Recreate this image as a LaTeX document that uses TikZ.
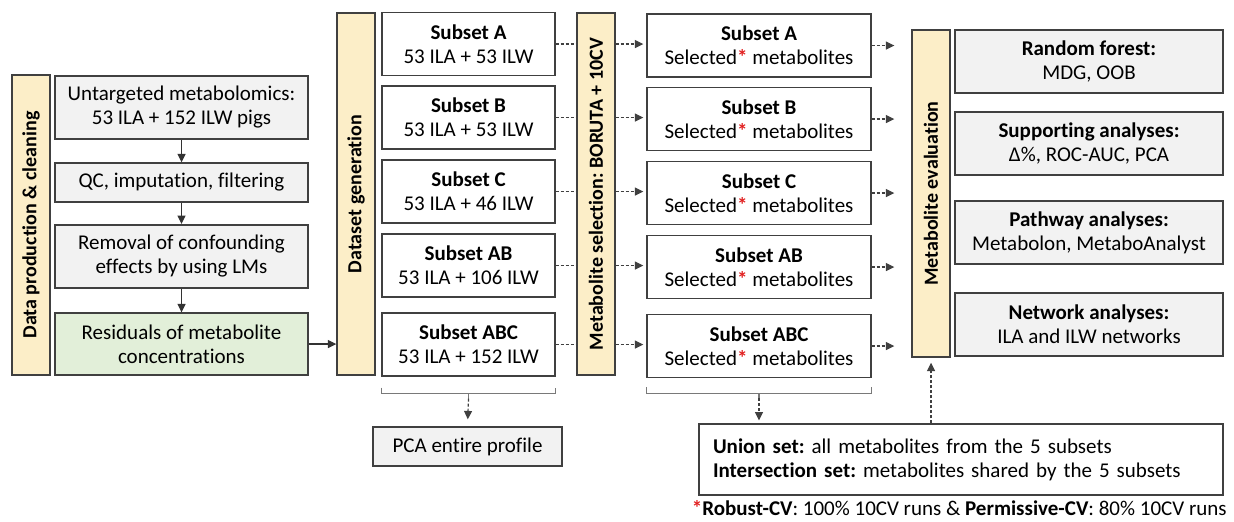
\documentclass[tikz,border=0pt]{standalone}
\usepackage{fontspec}
\setmainfont{Carlito}[Ligatures=NoCommon]
\frenchspacing
\usetikzlibrary{arrows.meta,backgrounds}
\definecolor{edge}{RGB}{64,64,64}
\definecolor{wheat}{RGB}{252,238,200}
\definecolor{mist}{RGB}{242,242,242}
\definecolor{sage}{RGB}{226,239,217}
\definecolor{note}{RGB}{225,30,30}
\tikzset{
  >={Triangle[length=4.2pt,width=4pt]},
  stage/.style={draw=edge,fill=wheat,line width=0.7pt,rotate=90,
    minimum height=19pt,minimum width=#1,inner sep=0pt,font=\bfseries},
  box/.style={draw=edge,fill=#1,line width=0.7pt,align=center,inner sep=1pt,
    minimum height=31.5pt},
  box/.default=white,
  flow/.style={->,draw=edge!80!black,line width=0.6pt},
  dflow/.style={->,draw=edge,line width=0.6pt,dash pattern=on 1.5pt off 1pt},
  bracket/.style={draw=edge!70,line width=0.6pt},
}
\newcommand{\selmet}{Selected\textcolor{note}{\textbf{*}} metabolites}

\begin{document}
\begin{tikzpicture}[x=0.5pt,y=-0.5pt,font=\fontsize{10.5}{12}\selectfont]
  \useasboundingbox (0,0) rectangle (1234,521);
  % the four stages
  \node[stage=150pt] (prod) at (31,225) {Data production \& cleaning};
  \node[stage=181pt] (gen) at (356,194) {Dataset generation};
  \node[stage=181pt] (sel) at (596,194) {Metabolite selection: BORUTA + 10CV};
  \node[stage=163.5pt] (eval) at (931,193.5) {Metabolite evaluation};

  % data production & cleaning
  \node[box=mist,minimum width=126.5pt] (untar) at (181.5,107.5) {Untargeted metabolomics:\\53 ILA + 152 ILW pigs};
  \node[box=mist,minimum width=126.5pt,minimum height=19.5pt] (qc) at (181.5,182.5) {QC, imputation, filtering};
  \node[box=mist,minimum width=126.5pt,line width=1.1pt] (lm) at (181.5,256.5) {Removal of confounding\\effects by using LMs};
  \node[box=sage,minimum width=126.5pt,minimum height=31pt] (resid) at (181.5,344) {Residuals of metabolite\\concentrations};
  \draw[flow] (untar) -- (qc);
  \draw[flow] (qc) -- (lm);
  \draw[flow] (lm) -- (resid);
  \draw[flow] (resid.east) -- (resid.east -| gen.north);

  % subsets before and after selection
  \foreach \s/\n/\y in {A/53/44,B/53/117.5,C/46/191.5,AB/106/265.5,ABC/152/344.5}{
    \node[box,minimum width=86.5pt] (l\s) at (468.5,\y) {\textbf{Subset \s}\\53 ILA + \n\ ILW};
    \node[box,minimum width=112pt] (r\s) at (759,\y+1.5) {\textbf{Subset \s}\\\selmet};
    \begin{scope}[on background layer]
      \draw[dflow,shorten >=1.5pt] (l\s.east) -- (l\s.east -| r\s.west);
    \end{scope}
    \draw[dflow,shorten >=8.5pt] (r\s.east) -- (r\s.east -| eval.north);
  }

  % evaluation
  \node[box=mist,minimum width=134pt] (rf) at (1089,61.5) {\textbf{Random forest:}\\MDG, OOB};
  \node[box=mist,minimum width=134pt,line width=1.1pt] (supp) at (1089,143.5) {\textbf{Supporting analyses:}\\Δ\%, ROC-AUC, PCA};
  \node[box=mist,minimum width=134pt] (path) at (1089,232.5) {\textbf{Pathway analyses:}\\Metabolon, MetaboAnalyst};
  \node[box=mist,minimum width=134pt] (net) at (1089,324.5) {\textbf{Network analyses:}\\ILA and ILW networks};

  % brackets below the subsets
  \coordinate (lbr) at ([yshift=-8.5pt]lABC.south);
  \coordinate (ltip) at ([yshift=-11pt]lABC.south);
  \draw[bracket] ([yshift=-5.5pt]lABC.south west) |- (lbr) -| ([yshift=-5.5pt]lABC.south east);
  \draw[bracket] (lbr) -- (ltip);
  \coordinate (rbr) at ([yshift=-7.5pt]rABC.south);
  \coordinate (rtip) at ([yshift=-10pt]rABC.south);
  \draw[bracket] ([yshift=-4.5pt]rABC.south west) |- (rbr) -| ([yshift=-4.5pt]rABC.south east);
  \draw[bracket] (rbr) -- (rtip);

  \node[box=mist,minimum width=94.5pt,minimum height=19.5pt] (pca) at (467.5,446.5) {PCA entire profile};
  \node[box,minimum width=262pt,line width=1pt,text width=248pt,inner sep=7pt,align=left] (union) at (961,459.5)
    {\textbf{Union set:} all metabolites from the 5 subsets\\\textbf{Intersection set:} metabolites shared by the 5 subsets};
  \draw[dflow,shorten >=3.5pt] (ltip) -- (pca.north);
  \draw[dflow,shorten >=1.5pt] (rtip) -- (union.north -| rtip);
  \draw[dflow,shorten >=2.5pt] (union.north -| eval.west) -- (eval.west);

  \node[anchor=east,inner sep=0pt] (foot) at (1227,508)
    {\textcolor{note}{\textbf{*}}\textbf{Robust-CV}: 100\% 10CV runs \& \textbf{Permissive-CV}: 80\% 10CV runs};
\end{tikzpicture}
\end{document}
